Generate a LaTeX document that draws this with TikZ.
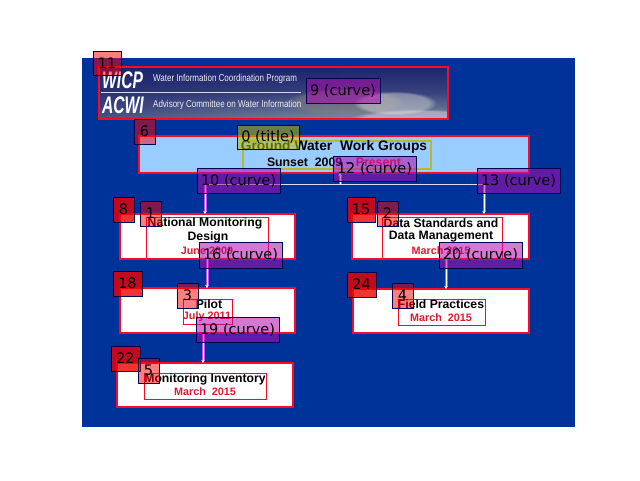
\documentclass[tikz,border=0pt]{standalone}
\usepackage{fontspec}
\setmainfont{Liberation Sans}
\newfontfamily\tagfont{DejaVu Sans}
\usepackage{tikz}
\usetikzlibrary{
  arrows.meta,
  fadings,
  positioning
}
\definecolor{SlideBlue}{RGB}{0, 51, 153}
\definecolor{PaleBlue}{RGB}{153, 204, 255}
\definecolor{BoxRed}{RGB}{250, 10, 40}
\definecolor{DateRed}{RGB}{225, 25, 50}
\definecolor{TitleYellow}{RGB}{185, 185, 45}
\definecolor{BannerTop}{RGB}{28, 36, 110}
\definecolor{BannerLow}{RGB}{125, 140, 160}
\definecolor{TagPurple}{RGB}{175, 10, 175}
\definecolor{TagOlive}{RGB}{190, 190, 0}
\definecolor{GlowPurple}{RGB}{190, 80, 230}
\tikzset{
    slidebox/.style={draw=BoxRed, line width=1.8pt, fill=white, anchor=north west, inner sep=0pt, outer sep=0pt},
    textbox/.style={draw=BoxRed, line width=1pt, anchor=north west, inner sep=0pt, outer sep=0pt, align=center},
    heading/.style={font=\fontsize{12.2}{15}\selectfont\bfseries, text=black},
    datetext/.style={font=\fontsize{10.8}{13}\selectfont\bfseries, text=DateRed},
    bannertext/.style={font=\fontsize{10}{12}\selectfont, text=white!85!gray, anchor=west, inner sep=0pt},
    logotext/.style={font=\fontsize{24}{26}\selectfont\bfseries\itshape, text=white, anchor=west, inner sep=0pt},
    wire/.style={draw=white, line width=1pt, preaction={draw=GlowPurple, line width=3pt}, -{Stealth[length=3pt,width=3pt]}},
    bus/.style={draw=white!85!blue, line width=.7pt},
    tagbox/.style={draw=black!70!blue, line width=.6pt, text opacity=1, inner sep=0pt, outer sep=0pt, anchor=north west, font=\tagfont\fontsize{14.5}{16}\selectfont, text=black},
    tagcurve/.style={tagbox, fill=TagPurple, fill opacity=.55, minimum width=83pt, minimum height=25pt},
    tagred/.style={tagbox, fill=red!94!black, fill opacity=.8, minimum height=25pt},
    taglight/.style={tagbox, fill=red, fill opacity=.5, minimum width=21pt, minimum height=25pt}
}
\begin{document}
\begin{tikzpicture}[x=1pt, y=-1pt]
            \useasboundingbox (0,0) rectangle (640,480);
            \fill[SlideBlue] (82,58) rectangle (575,427);

            % banner
            \node[inner sep=0pt, outer sep=0pt, minimum width=349pt, minimum height=52pt, anchor=north west] (bannerbox) at (99,67) {};
            \begin{scope}
                \clip (99,67) rectangle (448,119);
                \shade[top color=BannerTop, bottom color=BannerLow, middle color=BannerTop!70!BannerLow] (99,67) rectangle (448,119);
                \fill[BannerTop, opacity=.55, path fading=east] (99,67) rectangle (340,119);
                \fill[gray, opacity=.55, path fading=circle with fuzzy edge 20 percent] (345,102) ellipse (60pt and 14pt);
                \fill[white!75!gray, opacity=.45, path fading=circle with fuzzy edge 20 percent] (395,103) ellipse (42pt and 12pt);
                \fill[white!80!gray, opacity=.45, path fading=circle with fuzzy edge 20 percent] (420,119) ellipse (70pt and 10pt);
            \end{scope}
            \draw[draw=BoxRed, line width=1.4pt] (bannerbox.north west) rectangle (bannerbox.south east);
            \draw[white!85!blue, line width=1pt] (101,92) -- (301,92);
            \node[logotext] (wicplogo) at (102,80) {\scalebox{.65}[1]{WICP}};
            \node[logotext] (acwilogo) at (102,105) {\scalebox{.65}[1]{ACWI}};
            \node[bannertext] (wicptext) at (153,79) {\scalebox{.8}[1]{Water Information Coordination Program}};
            \node[bannertext] (acwitext) at (153,105) {\scalebox{.8}[1]{Advisory Committee on Water Information}};

            % title
            \node[slidebox, fill=PaleBlue, minimum width=390pt, minimum height=37pt] (titlebox) at (139,136) {};
            \node[textbox, draw=TitleYellow, line width=1.2pt, minimum width=188pt, minimum height=28pt] (titletext) at (243,141) {};
            \node[heading, font=\fontsize{13.8}{16}\selectfont\bfseries] (titleline) at (334,147) {Ground Water~~Work Groups};
            \node[font=\fontsize{12.3}{14}\selectfont\bfseries, text=black] (titledate) at (334,162) {Sunset~~2009 -- \textcolor{DateRed}{Present}};

            % boxes
            \node[slidebox, minimum width=175pt, minimum height=45pt] (nmdbox) at (120,214) {};
            \node[slidebox, minimum width=177pt, minimum height=45pt] (dsbox) at (352,214) {};
            \node[slidebox, minimum width=175pt, minimum height=45pt] (pilotbox) at (120,288) {};
            \node[slidebox, minimum width=176pt, minimum height=44pt] (fieldbox) at (353,289) {};
            \node[slidebox, minimum width=176pt, minimum height=44pt] (invbox) at (117,363) {};

            % box text
            \node[textbox, minimum width=122pt, minimum height=41pt] (nmdtext) at (146,217) {};
            \node[heading] (nmdone) at (205,223) {National Monitoring};
            \node[heading] (nmdtwo) at (208,237) {Design};
            \node[datetext] (nmddate) at (207,251) {June 2009};
            \node[textbox, minimum width=120pt, minimum height=41pt] (dstext) at (382,217) {};
            \node[heading] (dsone) at (441,223) {Data Standards and};
            \node[heading] (dstwo) at (441,237) {Data Management};
            \node[datetext] (dsdate) at (441,251) {March 2015};
            \node[textbox, minimum width=49pt, minimum height=25pt] (pilottext) at (183,299) {};
            \node[heading] (pilotone) at (209,304) {Pilot};
            \node[datetext] (pilotdate) at (207,317) {July 2011};
            \node[textbox, minimum width=87pt, minimum height=26pt] (fieldtext) at (398,299) {};
            \node[heading] (fieldone) at (441,304) {Field Practices};
            \node[datetext] (fielddate) at (441,318) {March~~2015};
            \node[textbox, minimum width=122pt, minimum height=26pt] (invtext) at (144,373) {};
            \node[heading] (invone) at (205,379) {Monitoring Inventory};
            \node[datetext] (invdate) at (205,392) {March~~2015};

            % connectors
            \coordinate (busleft) at (205,184);
            \coordinate (busmid) at (340,184);
            \coordinate (busright) at (484,184);
            \coordinate (nmdfoot) at (207,259);
            \coordinate (dsfoot) at (446,259);
            \coordinate (pilotfoot) at (203,333);
            \draw[bus] (busleft) -- (busright);
            \draw[wire] (busmid) -- (busmid |- titlebox.south);
            \draw[wire] (busleft) -- (busleft |- nmdbox.north);
            \draw[wire] (busright) -- (busright |- dsbox.north);
            \draw[wire] (nmdfoot) -- (nmdfoot |- pilotbox.north);
            \draw[wire] (dsfoot) -- (dsfoot |- fieldbox.north);
            \draw[wire] (pilotfoot) -- (pilotfoot |- invbox.north);

            % tags
            \node[taglight, minimum width=28pt, minimum height=24pt] (tagbanner) at (93,51) {11};
            \node[tagcurve, minimum width=74pt] (tagnine) at (306,78) {9 (curve)};
            \node[taglight] (tagsix) at (134,119) {6};
            \node[tagbox, fill=TagOlive, fill opacity=.55, minimum width=62pt, minimum height=24pt] (tagtitle) at (237,125) {0 (title)};
            \node[tagcurve] (tagmid) at (333,156) {12 (curve)};
            \node[tagcurve] (tagleft) at (197,168) {10 (curve)};
            \node[tagcurve] (tagright) at (477,168) {13 (curve)};
            \node[tagred, minimum width=21pt] (tageight) at (113,197) {8};
            \node[taglight] (tagone) at (140,201) {1};
            \node[tagred, minimum width=28pt] (tagfifteen) at (347,197) {15};
            \node[taglight] (tagtwo) at (377,201) {2};
            \node[tagcurve, minimum height=26pt] (tagsixteen) at (199,242) {16 (curve)};
            \node[tagcurve, minimum height=26pt] (tagtwenty) at (439,242) {20 (curve)};
            \node[tagred, minimum width=29pt] (tageighteen) at (113,271) {18};
            \node[taglight] (tagthree) at (177,283) {3};
            \node[tagred, minimum width=29pt] (tagtwentyfour) at (347,272) {24};
            \node[taglight] (tagfour) at (392,283) {4};
            \node[tagcurve] (tagnineteen) at (196,317) {19 (curve)};
            \node[tagred, minimum width=29pt] (tagtwentytwo) at (111,346) {22};
            \node[taglight] (tagfive) at (138,358) {5};
        \end{tikzpicture}
\end{document}
